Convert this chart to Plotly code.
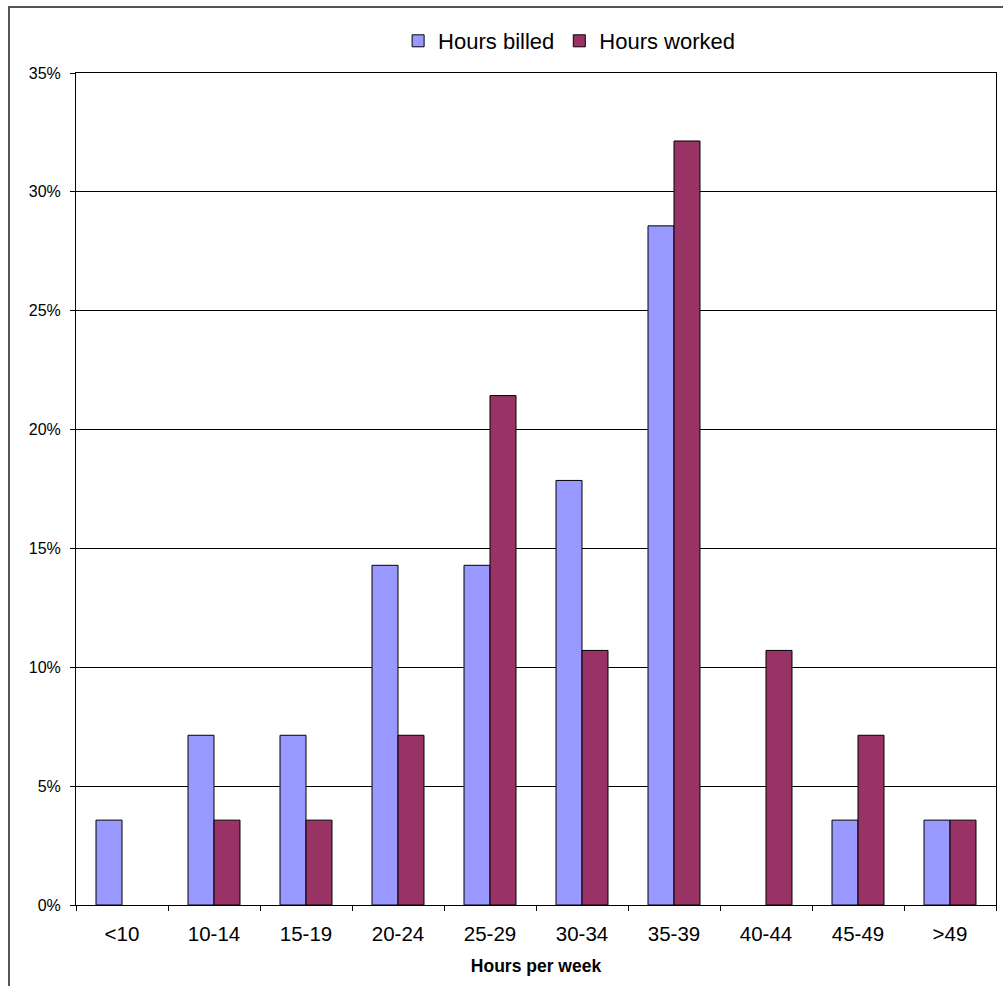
import plotly.graph_objects as go

categories = ["<10", "10-14", "15-19", "20-24", "25-29", "30-34", "35-39", "40-44", "45-49", ">49"]
hours_billed = [3.57, 7.14, 7.14, 14.29, 14.29, 17.86, 28.57, 0, 3.57, 3.57]
hours_worked = [0, 3.57, 3.57, 7.14, 21.43, 10.71, 32.14, 10.71, 7.14, 3.57]
y_ticks = [0, 5, 10, 15, 20, 25, 30, 35]
y_tick_labels = ["0%", "5%", "10%", "15%", "20%", "25%", "30%", "35%"]


def nonzero(vals):
    # zero-height bars are not drawn in the original chart
    return [v if v != 0 else None for v in vals]


fig = go.Figure()
fig.add_trace(go.Bar(name="Hours billed", x=categories, y=nonzero(hours_billed),
                     marker=dict(color="#9999FF", line=dict(color="black", width=1))))
fig.add_trace(go.Bar(name="Hours worked", x=categories, y=nonzero(hours_worked),
                     marker=dict(color="#993366", line=dict(color="black", width=1))))

W, H = 1003, 986
ml, mr, mt, mb = 76, 7, 73, 81
pw, ph = W - ml - mr, H - mt - mb

fig.update_layout(
    width=W, height=H,
    margin=dict(l=ml, r=mr, t=mt, b=mb),
    paper_bgcolor="white", plot_bgcolor="white",
    font=dict(family="Liberation Sans, Arial, sans-serif", color="black"),
    barmode="group", bargap=0.435, bargroupgap=0,
    showlegend=True,
    legend=dict(orientation="h", x=0.536, xanchor="center", y=1 + (73 - 41) / ph, yanchor="middle",
                font=dict(size=22), traceorder="normal", itemwidth=30, bgcolor="rgba(0,0,0,0)"),
    xaxis=dict(
        type="category", tickson="boundaries", ticks="outside", ticklen=5, tickcolor="black",
        showline=True, linecolor="black", linewidth=1, mirror=True, showgrid=False,
        tickfont=dict(size=20.5), ticklabelstandoff=10,
        title=dict(text="<b>Hours per week</b>", font=dict(size=17.5), standoff=16),
    ),
    yaxis=dict(
        range=[0, 35], tickvals=y_ticks, ticktext=y_tick_labels,
        ticks="outside", ticklen=5, tickcolor="black",
        showline=True, linecolor="black", linewidth=1, mirror=True,
        showgrid=True, gridcolor="black", gridwidth=1, zeroline=False,
        tickfont=dict(size=16), ticklabelstandoff=6,
    ),
    shapes=[dict(type="rect", xref="paper", yref="paper",
                 x0=(9 - ml) / pw, x1=1 + 30 / pw,
                 y0=-(mb + 30) / ph, y1=1 + (mt - 7) / ph,
                 line=dict(color="#555555", width=2), fillcolor="rgba(0,0,0,0)", layer="below")],
)

fig.write_html("out.html")
